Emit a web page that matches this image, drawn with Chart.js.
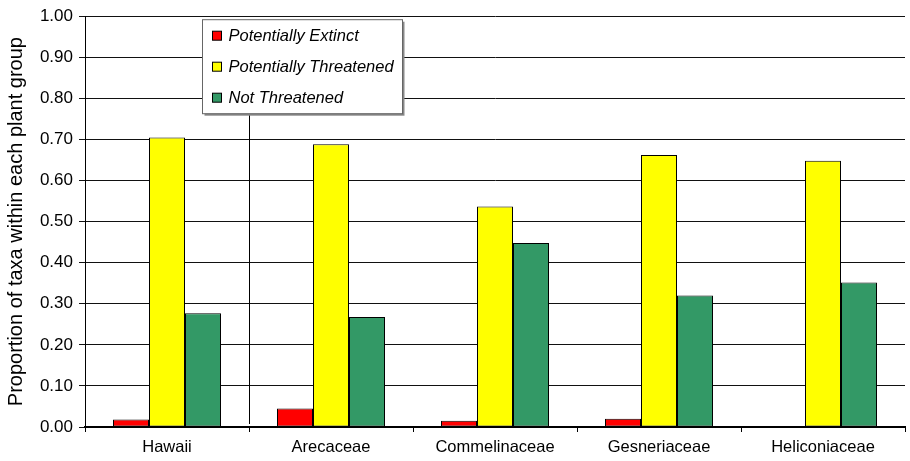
<!DOCTYPE html>
<html>
<head>
<meta charset="utf-8">
<script src="https://cdn.jsdelivr.net/npm/chart.js@4.4.1/dist/chart.umd.min.js"></script>
<style>
  html, body { margin: 0; padding: 0; background: #fff; }
  #wrap { width: 910px; height: 461px; }
</style>
</head>
<body>
<div id="wrap"><canvas id="chart" width="910" height="461"></canvas></div>
<script>
const categories = ['Hawaii', 'Arecaceae', 'Commelinaceae', 'Gesneriaceae', 'Heliconiaceae'];
const seriesNames = ['Potentially Extinct', 'Potentially Threatened', 'Not Threatened'];
const extinct = [0.018, 0.045, 0.015, 0.020, 0.000];
const threatened = [0.705, 0.688, 0.537, 0.662, 0.648];
const notThreatened = [0.277, 0.268, 0.448, 0.320, 0.352];
const yTicks = [0, 0.1, 0.2, 0.3, 0.4, 0.5, 0.6, 0.7, 0.8, 0.9, 1.0];

const colors = ['#ff0000', '#ffff00', '#339966'];
const FONT = '"Liberation Sans", Arial, sans-serif';

// Legend box drawn inside the plot area, like the original
const boxLegend = {
    id: 'boxLegend',
    beforeDatasetsDraw(chart) {
        // stray leader line between the first two categories
        const { ctx, chartArea, scales } = chart;
        const x = Math.round((scales.x.getPixelForValue(0) + scales.x.getPixelForValue(1)) / 2) + 0.5;
        ctx.save();
        ctx.strokeStyle = '#000';
        ctx.lineWidth = 1;
        ctx.beginPath();
        ctx.moveTo(x, chartArea.top + 98);
        ctx.lineTo(x, chartArea.bottom - 3);
        ctx.stroke();
        ctx.restore();
    },
    afterDraw(chart) {
        const { ctx, chartArea } = chart;
        const left = chartArea.left + 117.5;
        const top = chartArea.top + 3.5;
        const w = 200, h = 94;
        ctx.save();
        // shadow
        ctx.fillStyle = '#888';
        ctx.fillRect(left + 2, top + 2, w, h);
        ctx.fillStyle = '#fff';
        ctx.fillRect(left, top, w, h);
        ctx.strokeStyle = '#666';
        ctx.lineWidth = 1;
        ctx.strokeRect(left, top, w, h);
        ctx.font = 'italic 16.5px ' + FONT;
        ctx.textBaseline = 'middle';
        chart.data.datasets.forEach((ds, i) => {
            const cy = top + 16 + i * 31;
            ctx.fillStyle = ds.backgroundColor;
            ctx.fillRect(left + 10, cy - 4.5, 9, 9);
            ctx.strokeStyle = '#000';
            ctx.strokeRect(left + 10, cy - 4.5, 9, 9);
            ctx.fillStyle = '#000';
            ctx.fillText(ds.label, left + 26, cy + 1);
        });
        ctx.restore();
    }
};

const datasets = [extinct, threatened, notThreatened].map((vals, i) => ({
    label: seriesNames[i],
    data: vals,
    backgroundColor: colors[i],
    borderColor: '#000',
    borderWidth: 1,
    borderSkipped: false,
    inflateAmount: 0,
    categoryPercentage: 108 / 164,
    barPercentage: 1.0
}));

new Chart(document.getElementById('chart').getContext('2d'), {
    type: 'bar',
    data: { labels: categories, datasets },
    options: {
        responsive: false,
        animation: false,
        layout: { padding: { top: 14, right: 5, left: 0, bottom: 0 } },
        plugins: {
            legend: { display: false },
            tooltip: { enabled: false }
        },
        scales: {
            x: {
                offset: true,
                grid: {
                    display: true,
                    offset: true,
                    drawOnChartArea: false,
                    drawTicks: true,
                    tickLength: 5,
                    color: '#000'
                },
                border: { color: '#000', width: 2 },
                ticks: {
                    color: '#000',
                    padding: 6,
                    maxRotation: 0,
                    font: { family: FONT, size: 16.5 }
                },
                afterFit(scale) { scale.height = 34; }
            },
            y: {
                min: 0,
                max: 1,
                afterBuildTicks(scale) {
                    scale.ticks = yTicks.map(v => ({ value: v }));
                },
                grid: {
                    color: '#111',
                    lineWidth: 1,
                    tickLength: 6
                },
                border: { color: '#000', width: 1 },
                ticks: {
                    color: '#000',
                    padding: 6,
                    font: { family: FONT, size: 17 },
                    callback: v => v.toFixed(2)
                },
                title: {
                    display: true,
                    text: 'Proportion of taxa within each plant group',
                    color: '#000',
                    padding: { top: 4, bottom: 0 },
                    font: { family: FONT, size: 20 }
                },
                afterFit(scale) { scale.width = 85; }
            }
        }
    },
    plugins: [boxLegend]
});
</script>
</body>
</html>
